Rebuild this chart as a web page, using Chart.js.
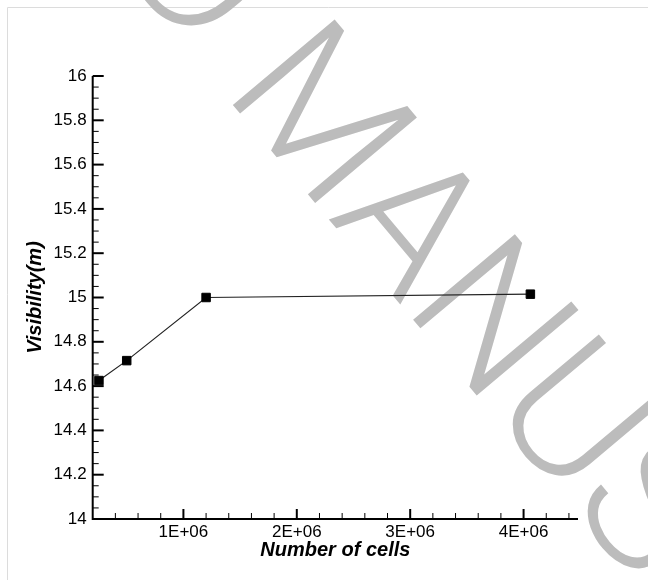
<!DOCTYPE html>
<html><head><meta charset="utf-8">
<script src="https://cdn.jsdelivr.net/npm/chart.js@4.4.0/dist/chart.umd.min.js"></script>
<style>html,body{margin:0;padding:0;background:#fff;}canvas{display:block;}</style>
</head><body>
<canvas id="c" width="648" height="580"></canvas>
<script>
// ---- data ----
const cells = [255000, 500000, 1200000, 4060000];
const visibility = [14.625, 14.715, 15.0, 15.015];
const xTicks = [1000000, 2000000, 3000000, 4000000];
const xTickLabels = ['1E+06', '2E+06', '3E+06', '4E+06'];
const yTicks = [14, 14.2, 14.4, 14.6, 14.8, 15, 15.2, 15.4, 15.6, 15.8, 16];
const yTickLabels = ['14', '14.2', '14.4', '14.6', '14.8', '15', '15.2', '15.4', '15.6', '15.8', '16'];
const xRange = [200000, 4480000];
const yRange = [14, 16];
const xMinorStep = 200000;
const yMinorStep = 0.05;
const xTitle = 'Number of cells';
const yTitle = 'Visibility(m)';
const watermarkBefore = 'ACCEPTED ';
const watermarkAfter = 'MANUSCRIPT';

const FONT = "'Liberation Sans', Arial, sans-serif";

const framePlugin = {
  id: 'frame',
  beforeDraw(chart) {
    const ctx = chart.ctx;
    ctx.save();
    ctx.strokeStyle = '#dcdcdc';
    ctx.lineWidth = 1;
    ctx.beginPath();
    ctx.moveTo(7.5, 600); ctx.lineTo(7.5, 7.5); ctx.lineTo(700, 7.5);
    ctx.stroke();
    ctx.restore();
  }
};

const watermarkPlugin = {
  id: 'watermark',
  beforeDatasetsDraw(chart) {
    const ctx = chart.ctx;
    ctx.save();
    ctx.translate(222, 92);
    ctx.rotate(50 * Math.PI / 180);
    ctx.fillStyle = '#bcbcbc';
    ctx.font = "300 187px 'Roboto Light', 'Lato Light', 'Open Sans Light', Roboto, sans-serif";
    ctx.textBaseline = 'alphabetic';
    ctx.textAlign = 'left';
    ctx.fillText(watermarkAfter, 0, 0);
    ctx.textAlign = 'right';
    ctx.fillText(watermarkBefore, 0, 0);
    ctx.restore();
  }
};

const axesPlugin = {
  id: 'axesInward',
  afterDraw(chart) {
    const ctx = chart.ctx;
    const xs = chart.scales.x, ys = chart.scales.y;
    const L = xs.getPixelForValue(xRange[0]);
    const R = xs.getPixelForValue(xRange[1]);
    const T = ys.getPixelForValue(yRange[1]);
    const B = ys.getPixelForValue(yRange[0]);
    ctx.save();
    ctx.strokeStyle = '#000';
    ctx.lineWidth = 2;
    ctx.beginPath();
    ctx.moveTo(L, T); ctx.lineTo(L, B); ctx.lineTo(R, B);
    ctx.stroke();
    const nY = Math.round((yRange[1] - yRange[0]) / yMinorStep);
    for (let i = 0; i <= nY; i++) {
      const v = yRange[0] + i * yMinorStep;
      const major = yTicks.some(t => Math.abs(t - v) < 1e-6);
      const p = ys.getPixelForValue(v);
      ctx.lineWidth = major ? 2 : 1;
      ctx.beginPath();
      ctx.moveTo(L, p); ctx.lineTo(L + (major ? 11 : 6), p);
      ctx.stroke();
    }
    for (let v = xRange[0] + xMinorStep; v < xRange[1]; v += xMinorStep) {
      const major = xTicks.some(t => Math.abs(t - v) < 1);
      const p = xs.getPixelForValue(v);
      ctx.lineWidth = major ? 2 : 1;
      ctx.beginPath();
      ctx.moveTo(p, B); ctx.lineTo(p, B - (major ? 10 : 6));
      ctx.stroke();
    }
    ctx.restore();
  }
};

new Chart(document.getElementById('c'), {
  type: 'line',
  data: {
    datasets: [{
      data: cells.map((c, i) => ({ x: c, y: visibility[i] })),
      borderColor: '#222',
      borderWidth: 1.2,
      pointStyle: 'rect',
      pointRadius: 6,
      pointBackgroundColor: '#000',
      pointBorderColor: '#000',
      pointBorderWidth: 1,
      tension: 0,
      clip: false
    }]
  },
  options: {
    responsive: false,
    animation: false,
    layout: { padding: { top: 76, right: 70, left: 0, bottom: 0 } },
    plugins: { legend: { display: false }, tooltip: { enabled: false } },
    scales: {
      x: {
        type: 'linear',
        min: xRange[0], max: xRange[1],
        afterBuildTicks: s => { s.ticks = xTicks.map(v => ({ value: v })); },
        afterFit: s => { s.height = 61; },
        grid: { display: false, drawTicks: false },
        border: { display: false },
        ticks: {
          color: '#000', padding: 3, maxRotation: 0, autoSkip: false,
          font: { family: FONT, size: 17 },
          callback: v => xTickLabels[xTicks.indexOf(v)]
        },
        title: {
          display: true, text: xTitle, color: '#000',
          font: { family: FONT, size: 20, weight: 'bold', style: 'italic' },
          padding: { top: 0, bottom: 18 }
        }
      },
      y: {
        type: 'linear',
        min: yRange[0], max: yRange[1],
        afterBuildTicks: s => { s.ticks = yTicks.map(v => ({ value: v })); },
        afterFit: s => { s.width = 92.7; },
        grid: { display: false, drawTicks: false },
        border: { display: false },
        ticks: {
          color: '#000', padding: 6, autoSkip: false,
          font: { family: FONT, size: 17 },
          callback: v => yTickLabels[yTicks.findIndex(t => Math.abs(t - v) < 1e-6)]
        },
        title: {
          display: true, text: yTitle, color: '#000',
          font: { family: FONT, size: 20, weight: 'bold', style: 'italic' },
          padding: { top: 23, bottom: 0 }
        }
      }
    }
  },
  plugins: [framePlugin, watermarkPlugin, axesPlugin]
});
</script>
</body></html>
